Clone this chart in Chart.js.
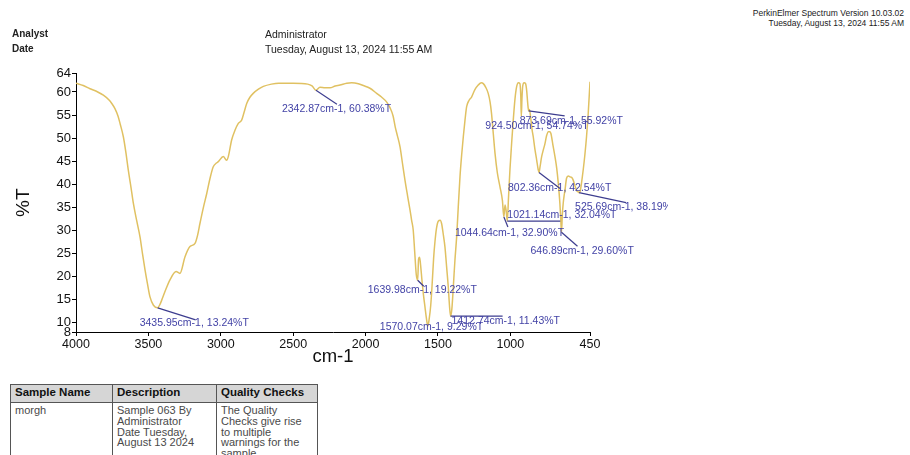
<!DOCTYPE html>
<html>
<head>
<meta charset="utf-8">
<script src="https://cdn.jsdelivr.net/npm/chart.js@4.4.1/dist/chart.umd.min.js"></script>
<style>
  html, body { margin: 0; padding: 0; background: #fff; }
  body { width: 910px; height: 455px; overflow: hidden; position: relative; font-family: "Liberation Sans", Arial, sans-serif; color: #222; }
  .txt { position: absolute; white-space: nowrap; z-index: 2; }
  #chartBox { position: absolute; left: 0; top: 0; width: 668px; height: 372px; z-index: 1; }
  table { position: absolute; left: 10px; top: 384px; border-collapse: collapse; z-index: 2; }
  th, td { border: 1.5px solid #555; text-align: left; vertical-align: top; padding: 1px 4px; }
  th { background: #d6d6d6; font-weight: bold; height: 15px; color: #111; font-size: 11.5px; }
  td { color: #4a4a4a; font-size: 11px; line-height: 10.8px; height: 60px; padding-top: 2px; }
</style>
</head>
<body>
<div class="txt" style="right:6px; top:8px; font-size:8.5px;">PerkinElmer Spectrum Version 10.03.02</div>
<div class="txt" style="right:6px; top:18px; font-size:8.5px;">Tuesday, August 13, 2024 11:55 AM</div>
<div class="txt" style="left:12px; top:28px; font-size:10px; font-weight:bold;">Analyst</div>
<div class="txt" style="left:12px; top:43px; font-size:10px; font-weight:bold;">Date</div>
<div class="txt" style="left:265px; top:28px; font-size:10.5px;">Administrator</div>
<div class="txt" style="left:265px; top:43px; font-size:10.5px;">Tuesday, August 13, 2024 11:55 AM</div>

<div id="chartBox"><canvas id="irChart" width="668" height="372"></canvas></div>

<table>
  <tr><th style="width:93px">Sample Name</th><th style="width:95px">Description</th><th style="width:92px">Quality Checks</th></tr>
  <tr><td>morgh</td><td>Sample 063 By<br>Administrator<br>Date Tuesday,<br>August 13 2024</td><td>The Quality<br>Checks give rise<br>to multiple<br>warnings for the<br>sample</td></tr>
</table>

<script>
// spectrum (cm-1, %T)
const wavenumbers = [
  4000, 3950, 3903, 3850, 3811, 3770, 3753, 3731, 3710, 3696, 3673, 3655, 3639, 3620, 3604,
  3580, 3558, 3540, 3523, 3505, 3489, 3465, 3436, 3420, 3408, 3380, 3351, 3309, 3282, 3247,
  3213, 3178, 3160, 3144, 3120, 3097, 3075, 3052, 3030, 3017, 2983, 2960, 2948, 2925, 2902,
  2879, 2856, 2840, 2821, 2800, 2776, 2740, 2706, 2650, 2600, 2500, 2400, 2370, 2343, 2315,
  2280, 2246, 2210, 2177, 2130, 2096, 2050, 2016, 1970, 1923, 1890, 1854, 1830, 1810, 1795,
  1780, 1762, 1745, 1728, 1710, 1693, 1682, 1671, 1660, 1650, 1640, 1634, 1627, 1620, 1610,
  1600, 1590, 1580, 1570, 1560, 1550, 1540, 1530, 1521, 1510, 1498, 1485, 1475, 1465, 1452,
  1440, 1429, 1420, 1413, 1404, 1394, 1383, 1371, 1360, 1348, 1336, 1325, 1313, 1302, 1285,
  1268, 1245, 1222, 1200, 1187, 1170, 1153, 1140, 1130, 1118, 1106, 1090, 1072, 1055, 1045,
  1037, 1030, 1021, 1013, 1003, 990, 980, 968, 957, 945, 934, 928, 924.5, 920, 915,
  905, 895, 888, 880, 874, 868, 860, 850, 842, 830, 818, 808, 802, 795, 784,
  772, 761, 750, 738, 728, 720, 706, 692, 680, 669, 658, 652, 647, 641, 635,
  629, 623, 612, 600, 589, 577, 566, 555, 543, 530, 526, 518, 510, 497, 485,
  474, 462, 450
];
const transmittance = [
  61.9, 61.4, 60.7, 60.0, 59.3, 58.2, 57.5, 56.4, 54.8, 53.2, 50.3, 46.8, 43.1, 39.3, 35.9,
  32.0, 28.6, 24.8, 21.4, 18.2, 15.6, 13.8, 13.24, 14.0, 14.9, 17.2, 19.3, 21.1, 20.7, 24.3,
  26.5, 27.2, 29.0, 31.5, 35.0, 38.0, 41.2, 43.8, 44.6, 44.9, 46.0, 45.2, 46.0, 49.6, 51.7,
  53.2, 53.9, 55.5, 57.5, 58.8, 59.7, 60.6, 61.2, 61.7, 61.9, 61.9, 61.7, 61.3, 60.38, 61.0,
  60.9, 60.9, 61.3, 61.5, 61.9, 62.0, 61.8, 61.4, 60.8, 59.7, 58.9, 57.8, 56.5, 54.8, 52.4,
  50.5, 48.1, 44.5, 40.9, 37.5, 34.4, 32.2, 30.1, 25.0, 20.5, 19.22, 23.8, 24.2, 22.5, 19.0,
  16.0, 13.5, 11.0, 9.29, 11.0, 13.8, 18.5, 24.0, 27.5, 30.5, 32.0, 32.2, 31.5, 29.5, 26.5,
  22.0, 17.8, 13.5, 11.43, 13.0, 17.8, 23.5, 28.6, 35.0, 41.6, 46.5, 50.3, 54.0, 56.8, 58.2,
  58.9, 60.5, 61.5, 62.0, 61.8, 61.0, 59.7, 57.8, 55.3, 51.0, 46.7, 42.5, 39.5, 36.5, 32.9,
  35.5, 34.5, 32.04, 37.0, 43.1, 49.5, 53.9, 58.5, 61.1, 62.0, 61.8, 59.0, 54.74, 58.5, 61.2,
  62.0, 61.8, 60.5, 57.5, 55.92, 56.2, 54.5, 51.8, 50.3, 47.5, 45.2, 43.2, 42.54, 43.8, 46.0,
  47.5, 48.8, 50.5, 51.4, 51.4, 51.0, 48.5, 46.0, 43.5, 40.2, 35.9, 32.5, 29.6, 33.5, 35.9,
  37.5, 38.7, 41.3, 41.8, 41.6, 41.5, 40.9, 39.8, 38.7, 38.3, 38.19, 38.5, 40.0, 43.1, 46.5,
  50.3, 55.5, 62.2
];

// labelled peaks
const peakWn = [3435.95, 2342.87, 1639.98, 1570.07, 1412.74, 1044.64, 1021.14, 924.50, 873.69, 802.36, 646.89, 525.69];
const peakT  = [13.24, 60.38, 19.22, 9.29, 11.43, 32.90, 32.04, 54.74, 55.92, 42.54, 29.60, 38.19];

const xTicks = [4000, 3500, 3000, 2500, 2000, 1500, 1000, 450];
const yTicks = [8, 10, 15, 20, 25, 30, 35, 40, 45, 50, 55, 60, 64];

// where each peak label sits, relative to its peak: [lineEnd dx, dy, text dx, dy]
const labelOffsets = [
  [38, 12, -18, 15],
  [21, 14, -34, 19],
  [6, 6, -50, 10],
  [0, 0, -48, 1],
  [52, 0, 1, 5],
  [4, 10, -49, 16],
  [53, 0, 0, -6],
  [0, 0, -36, 10],
  [36, 5, -9, 10],
  [21, 16, -31, 16],
  [16, 14, -31, 19],
  [47, 10, -4, 14]
];

const peakLabels = {
  id: 'peakLabels',
  afterDatasetsDraw(chart) {
    const ctx = chart.ctx;
    const xs = chart.scales.x, ys = chart.scales.y;
    ctx.save();
    ctx.font = '10.5px "Liberation Sans", Arial, sans-serif';
    ctx.textBaseline = 'middle';
    ctx.textAlign = 'left';
    peakWn.forEach(function(wn, i) {
      const px = xs.getPixelForValue(wn);
      const py = ys.getPixelForValue(peakT[i]);
      const o = labelOffsets[i];
      if (o[0] !== 0 || o[1] !== 0) {
        ctx.strokeStyle = '#3d3d8f';
        ctx.lineWidth = 1.2;
        ctx.beginPath();
        ctx.moveTo(px, py);
        ctx.lineTo(px + o[0], py + o[1]);
        ctx.stroke();
      }
      ctx.fillStyle = '#4343a6';
      ctx.fillText(wn.toFixed(2) + 'cm-1, ' + peakT[i].toFixed(2) + '%T', px + o[2], py + o[3]);
    });
    ctx.restore();
  }
};

const ctx = document.getElementById('irChart').getContext('2d');
new Chart(ctx, {
  type: 'line',
  data: {
    datasets: [{
      data: wavenumbers.map((w, i) => ({ x: w, y: transmittance[i] })),
      borderColor: 'rgb(224, 193, 98)',
      borderWidth: 1.5,
      pointRadius: 0,
      cubicInterpolationMode: 'monotone',
      fill: false
    }]
  },
  options: {
    responsive: false,
    animation: false,
    devicePixelRatio: 1,
    layout: { padding: { top: 73.5, right: 78, left: 0, bottom: 0 } },
    plugins: { legend: { display: false }, tooltip: { enabled: false } },
    scales: {
      x: {
        type: 'linear',
        reverse: true,
        min: 450,
        max: 4000,
        afterBuildTicks: s => { s.ticks = xTicks.map(v => ({ value: v })); },
        afterFit: s => { s.height = 40; },
        ticks: { autoSkip: false, maxRotation: 0, color: '#111', padding: 1,
                 callback: v => String(v),
                 font: { family: '"Liberation Sans", Arial, sans-serif', size: 12.5 } },
        grid: { drawOnChartArea: false, color: '#000', tickLength: 4 },
        border: { color: '#000', width: 1 },
        title: { display: true, text: 'cm-1', color: '#111', padding: { top: 0, bottom: 4 },
                 font: { family: '"Liberation Sans", Arial, sans-serif', size: 18.5 } }
      },
      y: {
        min: 8,
        max: 64,
        afterBuildTicks: s => { s.ticks = yTicks.map(v => ({ value: v })); },
        afterFit: s => { s.width = 76; },
        ticks: { autoSkip: false, color: '#111', padding: 1,
                 callback: v => String(v),
                 font: { family: '"Liberation Sans", Arial, sans-serif', size: 13 } },
        grid: { drawOnChartArea: false, color: '#000', tickLength: 4 },
        border: { color: '#000', width: 1 },
        title: { display: true, text: '%T', color: '#111', padding: { top: 12, bottom: 0 },
                 font: { family: '"Liberation Sans", Arial, sans-serif', size: 19 } }
      }
    }
  },
  plugins: [peakLabels]
});
</script>
</body>
</html>
